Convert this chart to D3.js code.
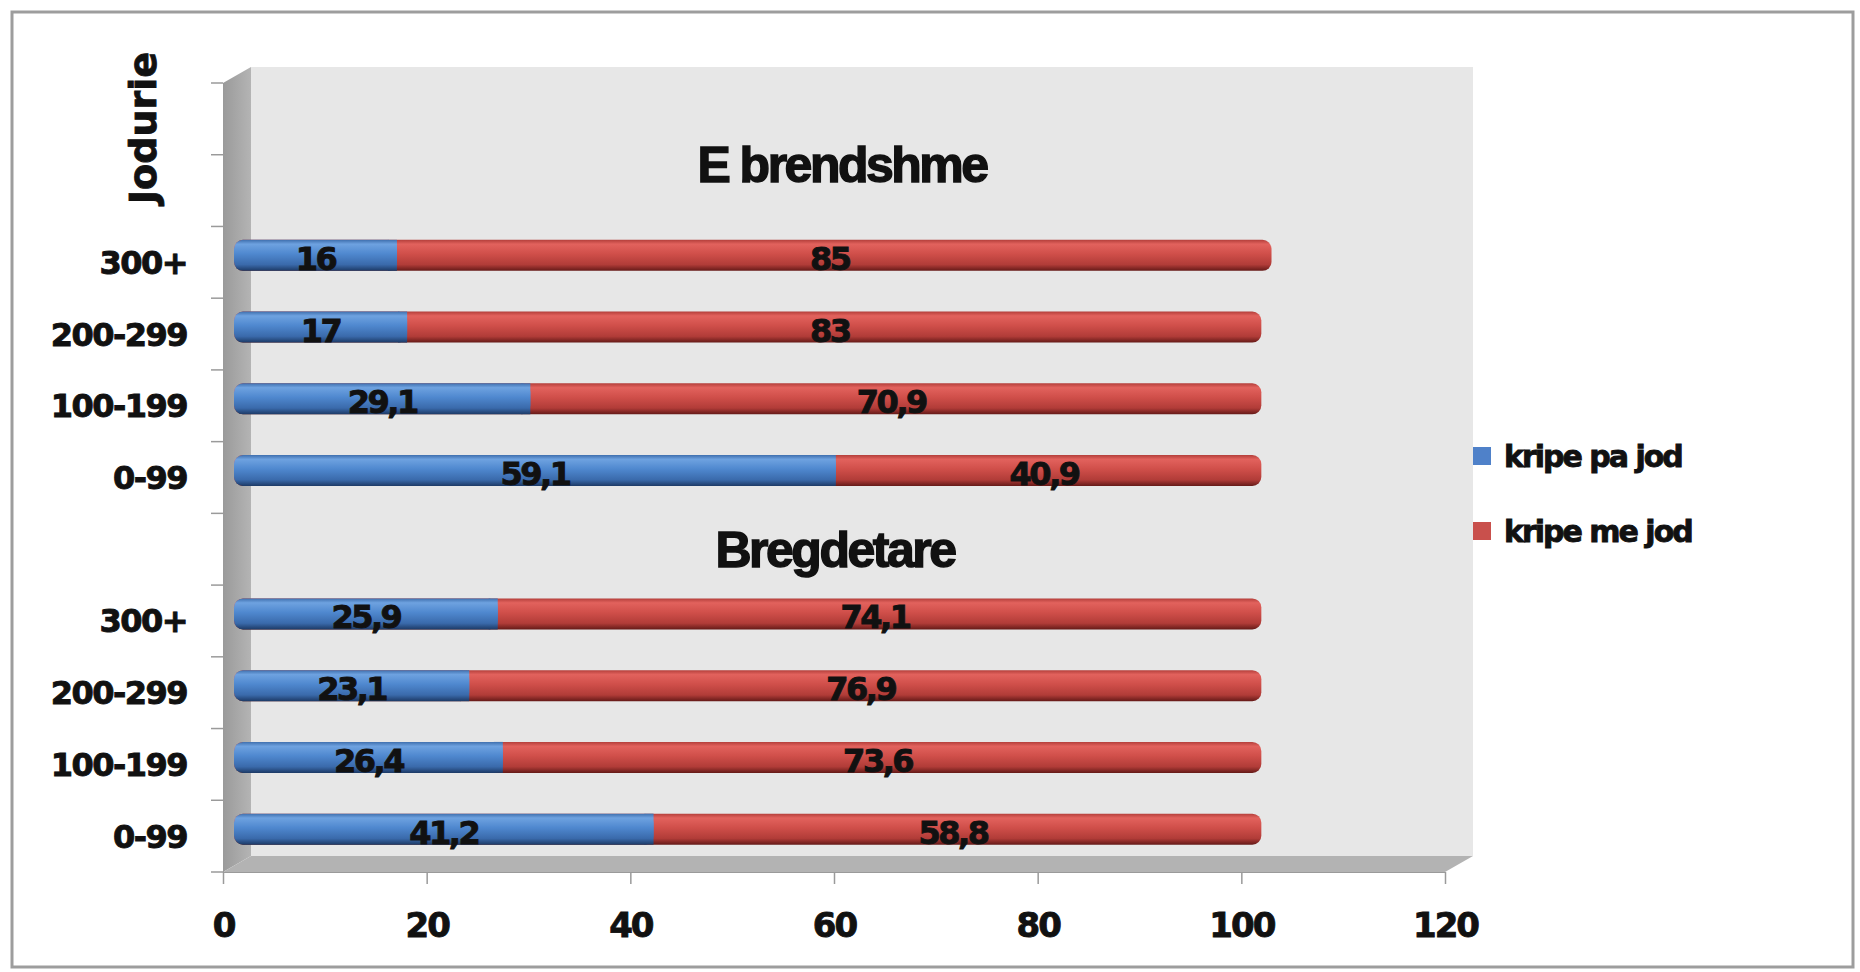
<!DOCTYPE html>
<html>
<head>
<meta charset="utf-8">
<script src="https://cdn.jsdelivr.net/npm/d3@7"></script>
<style>
  body { margin: 0; background: #fff; }
  svg text { font-family: "DejaVu Sans", Verdana, sans-serif; font-weight: bold; fill: #111; stroke: #111; stroke-width: 0.9px; }
  .title { font-family: "Liberation Sans", Arial, sans-serif; stroke-width: 1.4px; }
</style>
</head>
<body>
<div id="chart"></div>
<script>
// data
var groups = ["E brendshme", "Bregdetare"];
var classes = ["300+", "200-299", "100-199", "0-99"];
var seriesNames = ["kripe pa jod", "kripe me jod"];
var paJod = [16, 17, 29.1, 59.1, 25.9, 23.1, 26.4, 41.2];   // blue
var meJod = [85, 83, 70.9, 40.9, 74.1, 76.9, 73.6, 58.8];   // red
var xTicks = [0, 20, 40, 60, 80, 100, 120];
var axisTitle = "Jodurie";

var W = 1860, H = 972;
var svg = d3.select("#chart").append("svg").attr("width", W).attr("height", H);

// category list: a blank row on top, then a header row + 4 rows per group
var rows = [];
var cats = ["_top"];
groups.forEach(function(g, gi){
  cats.push("_" + g);
  classes.forEach(function(c, ci){
    var key = g + "|" + c;
    cats.push(key);
    rows.push({key: key, pa: paJod[gi*4+ci], me: meJod[gi*4+ci]});
  });
});

var x = d3.scaleLinear().domain([0, 120]).range([223, 1445]);
var y = d3.scaleBand().domain(cats).range([83, 872]);
var dx = 28, dy = 16;   // 3d depth

// outer frame
svg.append("rect").attr("x", 12).attr("y", 12).attr("width", 1841).attr("height", 955)
  .attr("fill", "#fff").attr("stroke", "#9d9d9d").attr("stroke-width", 3);

var defs = svg.append("defs");
var gw = defs.append("linearGradient").attr("id", "sidewall").attr("x1", 0).attr("x2", 1).attr("y1", 0).attr("y2", 0);
gw.append("stop").attr("offset", "0%").attr("stop-color", "#9a9a9a");
gw.append("stop").attr("offset", "100%").attr("stop-color", "#b4b4b4");

function barGrad(id, c){
  var g = defs.append("linearGradient").attr("id", id).attr("x1", 0).attr("x2", 0).attr("y1", 0).attr("y2", 1);
  c.forEach(function(s){ g.append("stop").attr("offset", s[0]).attr("stop-color", s[1]); });
}
barGrad("gBlue", [["0%", "#3f6fae"], ["14%", "#6ea2e0"], ["45%", "#4f88cf"], ["80%", "#3a6aab"], ["100%", "#1d3a66"]]);
barGrad("gRed", [["0%", "#b43f3b"], ["14%", "#e2625d"], ["45%", "#d04f4a"], ["80%", "#b13c38"], ["100%", "#651a18"]]);

var x0 = x.range()[0], x1 = x.range()[1];
var yTop = y.range()[0], yBot = y.range()[1];

// back wall, side wall, floor
svg.append("rect").attr("x", x0 + dx).attr("y", yTop - dy).attr("width", x1 - x0).attr("height", yBot - yTop)
  .attr("fill", "#e7e7e7");
svg.append("polygon").attr("fill", "url(#sidewall)")
  .attr("points", [[x0, yTop], [x0 + dx, yTop - dy], [x0 + dx, yBot - dy], [x0, yBot]].join(" "));
svg.append("polygon").attr("fill", "#b3b3b3")
  .attr("points", [[x0, yBot], [x0 + dx, yBot - dy], [x1 + dx, yBot - dy], [x1, yBot]].join(" "));

// axes
var yAxis = svg.append("g").attr("transform", "translate(" + x0 + ",0)")
  .call(d3.axisLeft(y).tickSize(0).tickPadding(36).tickFormat(function(d){
    return d.charAt(0) == "_" ? "" : d.split("|")[1];
  }));
yAxis.select(".domain").attr("stroke", "#9a9a9a");
yAxis.selectAll("text").style("font-size", "32px").style("letter-spacing", "-1.5px").attr("dy", "0.36em");

var bounds = cats.map(function(d){ return y(d); }).concat([yBot]);
svg.append("g").selectAll("line").data(bounds).join("line")
  .attr("x1", x0 - 12).attr("x2", x0).attr("y1", d => d).attr("y2", d => d)
  .attr("stroke", "#9a9a9a").attr("stroke-width", 1.5);

var xAxis = svg.append("g").attr("transform", "translate(0," + yBot + ")")
  .call(d3.axisBottom(x).tickValues(xTicks).tickSize(12));
xAxis.select(".domain").attr("stroke", "#9a9a9a");
xAxis.selectAll(".tick line").attr("stroke", "#9a9a9a").attr("stroke-width", 1.5);
xAxis.selectAll("text").style("font-size", "34px").style("letter-spacing", "-2px")
  .attr("y", 65).attr("dy", 0);

// bars (stacked, sitting at mid depth)
var bx = 11, by = -7;
var bh = 31, r = 9;
var bars = svg.append("g").selectAll("g").data(rows).join("g")
  .attr("transform", d => "translate(" + bx + "," + (y(d.key) + y.bandwidth() / 2 + by - bh / 2) + ")");

bars.append("rect").attr("x", x(0)).attr("width", d => x(d.pa + d.me) - x(0) + r)
  .attr("height", bh).attr("rx", r).attr("fill", "url(#gRed)");
bars.append("rect").attr("x", x(0)).attr("width", d => x(d.pa) - x(0))
  .attr("height", bh).attr("rx", r).attr("fill", "url(#gBlue)");
bars.append("rect").attr("x", d => x(d.pa) - r).attr("width", r)
  .attr("height", bh).attr("fill", "url(#gBlue)");

function fmt(v){ return String(v).replace(".", ","); }
bars.append("text").attr("x", d => (x(0) + x(d.pa)) / 2).attr("y", bh / 2 + 3).attr("dy", "0.36em")
  .attr("text-anchor", "middle").style("font-size", "32px").style("letter-spacing", "-2.5px")
  .text(d => fmt(d.pa));
bars.append("text").attr("x", d => (x(d.pa) + x(d.pa + d.me)) / 2).attr("y", bh / 2 + 3).attr("dy", "0.36em")
  .attr("text-anchor", "middle").style("font-size", "32px").style("letter-spacing", "-2.5px")
  .text(d => fmt(d.me));

// group titles
svg.append("text").attr("class", "title").attr("x", 842).attr("y", y("_" + groups[0]) + 9)
  .attr("dy", "0.36em").attr("text-anchor", "middle")
  .style("font-size", "50px").style("letter-spacing", "-2.5px").text(groups[0]);
svg.append("text").attr("class", "title").attr("x", 835).attr("y", y("_" + groups[1]) + y.bandwidth() / 2)
  .attr("dy", "0.36em").attr("text-anchor", "middle")
  .style("font-size", "50px").style("letter-spacing", "-2.5px").text(groups[1]);

// axis title
svg.append("text").attr("transform", "translate(142,128) rotate(-90)")
  .attr("text-anchor", "middle").attr("dy", "0.36em").style("font-size", "38px")
  .text(axisTitle);

// legend
var leg = svg.append("g").attr("transform", "translate(1473,447)");
var li = leg.selectAll("g").data(seriesNames).join("g")
  .attr("transform", (d, i) => "translate(0," + i * 75 + ")");
li.append("rect").attr("width", 18).attr("height", 18)
  .attr("fill", (d, i) => i == 0 ? "#4f81c9" : "#c9504c");
li.append("text").attr("x", 31).attr("y", 9).attr("dy", "0.36em")
  .style("font-size", "30px").style("letter-spacing", "-2px").text(d => d);
</script>
</body>
</html>
